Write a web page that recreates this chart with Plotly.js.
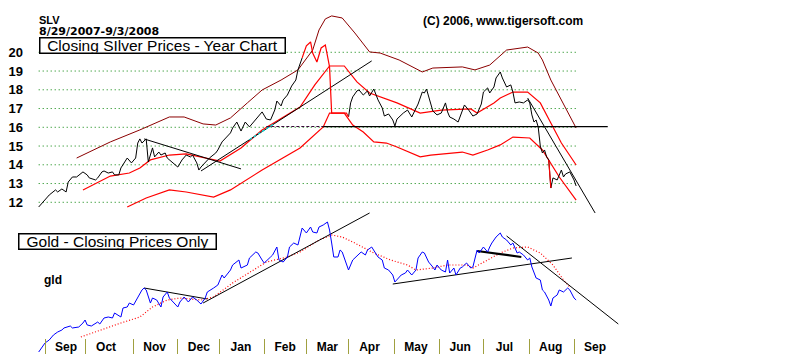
<!DOCTYPE html>
<html><head><meta charset="utf-8">
<script src="https://cdn.plot.ly/plotly-3.0.1.min.js"></script>
<style>html,body{margin:0;padding:0;background:#fff}#chart{width:800px;height:354px}</style>
</head><body><div id="chart"></div>
<script>
// x = trading session number counted from 8/29/2007 (session 0)
const monthStarts = [3,22,45,66,86,107,127,147,169,190,211,233,254];
const monthLabels = ['Sep','Oct','Nov','Dec','Jan','Feb','Mar','Apr','May','Jun','Jul','Aug','Sep'];
const silverTicks = [12,13,14,15,16,17,18,19,20];

// SLV closes (black line); null = section drawn in red
const slvDay = [0,3,5,8,9,11,13,14,16,18,20,21,23,24,27,28,30,31,33,35,36,38,39,41,42,44,46,47,48,49,51,52,54,55,57,58,60,61,63,66,68,70,72,73,75,76,77,79,81,84,85,87,89,91,92,94,96,98,100,103,105,106,108,110,112,113,115,116,118,120,122,123,125,
  136,
  147,148,149,151,152,154,156,157,159,161,163,164,166,168,169,170,173,175,177,178,180,182,183,184,186,187,189,191,193,194,195,197,199,201,202,204,206,208,210,211,213,214,216,217,219,220,222,224,225,226,228,230,232,233,234,235,236,237,238,239,240,241,242,243,244,246,247,248,249,250,252,253,254,255];
const slvClose = [11.75,12.12,12.39,12.66,12.55,12.71,12.55,13.08,13.35,13.35,13.56,13.62,13.46,13.30,13.19,13.30,13.62,13.67,13.56,13.62,13.46,13.46,13.83,14.15,14.36,14.10,14.36,15.16,15.38,15.16,15.38,14.15,14.90,14.42,14.68,14.52,14.63,14.36,14.15,13.88,14.26,14.52,14.42,14.52,14.10,13.72,13.88,14.10,14.36,14.63,14.79,15.22,15.48,15.70,15.96,16.28,15.80,16.28,16.02,16.44,16.71,16.82,16.44,16.39,16.92,17.40,17.14,17.46,17.72,18.20,18.52,19.06,19.70,
  null,
  16.55,17.30,17.62,17.94,17.99,17.72,17.94,17.67,18.04,17.46,17.03,16.60,16.71,16.39,16.07,16.44,16.76,16.92,16.55,16.76,17.24,17.88,17.83,18.04,17.30,16.87,16.66,16.76,17.30,16.82,16.55,16.44,16.28,16.92,17.19,16.92,16.60,16.71,17.24,17.88,18.10,17.83,18.15,18.63,18.95,18.63,18.15,18.26,17.88,17.30,17.35,17.30,17.46,17.30,16.66,16.28,16.39,16.02,15.00,14.63,14.79,14.42,14.26,12.76,13.30,13.19,13.51,13.72,13.35,13.51,13.62,13.40,13.19,12.87];

// SLV sections drawn in red
const slvRedDay = [125,127,129,130,132,134,136,137,138,139,146,147, 170, 242,243];
const slvRedVal = [19.70,20.34,20.55,19.96,19.48,20.23,20.39,19.86,19.22,16.76,16.76,16.55, null, 14.26,12.76];

// bands
const upperDay = [18,34,48,62,69,78,84,91,99,106,115,123,130,133,136,139,144,150,157,162,171,182,187,201,207,214,222,232,237,239,243,248,255];
const upperVal = [14.36,15.22,15.86,16.55,16.55,16.18,16.12,16.50,17.30,17.99,18.52,19.06,20.12,21.19,21.78,21.94,21.83,21.03,20.02,19.96,19.59,18.95,19.16,19.22,19.06,19.32,20.12,20.28,19.96,19.59,18.52,17.46,15.96];
const midDay = [21,28,34,43,48,53,62,70,80,86,96,106,124,131,138,145,151,157,170,181,191,205,208,216,219,225,232,238,243,248,255];
const midVal = [12.66,13.08,13.40,13.56,13.83,14.26,14.52,14.58,14.36,14.20,14.90,15.86,17.08,18.26,19.27,19.27,18.42,17.83,17.30,16.76,16.92,16.98,16.76,17.30,17.56,17.88,17.88,17.30,16.23,15.16,13.99];
const lowerDay = [42,51,62,70,83,91,106,124,135,138,145,149,154,159,165,170,181,186,201,206,213,219,225,233,239,247,255];
const lowerVal = [11.75,12.23,12.66,12.55,12.28,12.66,13.72,14.90,16.02,16.76,16.76,16.12,15.75,15.22,15.16,14.95,14.42,14.52,14.68,14.52,14.79,15.06,15.48,15.43,14.79,13.35,12.12];

// silver trendlines [day0, day1], [val0, val1]
const slvDownDay = [50,96],  slvDownVal = [15.38,13.78];
const slvUpDay = [77,158],   slvUpVal = [13.67,19.54];
const slvCyanDay = [100,112], slvCyanVal = [15.34,16.21];
const slvFlatDashDay = [108,135], slvFlatSolidDay = [135,270], slvFlatVal = [16.04,16.04];
const slvAugDay = [232,264], slvAugVal = [17.56,11.43];

// GLD closes
const gldDay = [0,3,5,7,9,11,12,15,16,19,21,22,23,25,28,29,31,33,35,36,39,40,42,43,45,47,49,50,51,53,54,56,58,59,61,62,64,66,67,69,71,73,75,77,79,80,83,85,87,88,91,92,95,96,99,100,103,104,106,107,110,111,113,114,116,118,119,121,123,124,125,127,129,130,132,133,135,137,138,139,140,142,143,144,146,147,149,150,152,153,155,156,158,160,161,163,164,166,168,169,171,172,174,175,177,179,180,182,183,185,187,188,189,191,193,194,195,197,198,200,201,203,205,206,208,209,211,213,214,215,217,219,220,222,224,225,227,228,230,232,233,234,236,238,239,240,242,243,244,246,247,249,251,252,254,255];
const gldClose = [65.5,67.87,68.66,69.97,70.76,71.29,71.82,72.34,71.82,72.08,73.13,73.92,72.61,72.34,73.39,72.87,74.45,74.71,74.45,75.76,74.71,77.08,77.34,78.39,77.87,79.71,81.82,82.34,81.82,78.39,79.71,79.18,77.34,79.97,81.29,79.71,78.39,77.34,78.66,79.97,78.66,79.97,79.18,78.13,79.71,81.29,82.34,83.13,85.76,84.97,87.08,88.39,89.71,87.6,88.39,90.24,91.82,91.55,89.71,88.92,90.5,91.03,93.13,89.71,89.18,90.5,93.13,94.18,93.66,96.03,98.13,96.82,98.39,97.08,96.82,98.39,98.92,99.71,97.6,94.18,90.5,90.5,92.34,91.82,88.92,87.08,89.71,90.24,91.55,91.82,91.03,92.34,93.13,91.55,90.5,89.71,87.6,87.08,85.76,83.92,84.97,85.76,86.29,87.08,85.76,87.08,90.24,91.82,91.55,89.18,87.87,87.08,88.39,87.08,86.55,89.71,86.29,87.6,85.76,87.6,87.87,88.92,87.6,87.87,92.34,91.55,93.13,91.82,93.13,94.18,95.76,96.82,95.76,94.97,93.66,94.18,91.55,91.82,91.03,89.71,90.24,87.87,84.97,84.45,81.82,81.29,79.18,77.6,79.71,80.5,81.82,81.29,82.34,81.82,79.71,79.18];
const gldMaDay = [20,29,39,48,54,61,67,77,83,92,102,108,118,124,133,139,144,149,159,167,175,179,187,194,203,206,213,219,225,232,238,244,249,252];
const gldMaVal = [69.45,71.29,73.13,74.71,77.34,79.18,79.71,79.18,79.97,83.66,87.08,89.18,90.5,91.82,94.97,96.29,95.76,94.45,91.55,89.71,88.39,87.08,87.6,88.39,88.39,87.6,89.71,91.55,92.87,93.13,91.55,88.39,84.45,82.6];
// gold trendlines
const gldT1Day = [50,80],   gldT1Val = [82.34,79.45];
const gldT2Day = [78,157],  gldT2Val = [78.39,102.08];
const gldT3Day = [168,253], gldT3Val = [83.39,90.24];
const gldT4Day = [208,229], gldT4Val = [92.08,90.5];
const gldT5Day = [222,275], gldT5Val = [96.03,72.87];

const FONT = 'Liberation Sans, Arial, sans-serif';
const W = 800, H = 354, ML = 24, MR = 160, PW = W - ML - MR;
const xp = p => (p - ML) / PW, yp = p => 1 - p / H;

function line(x, y, color, width, dash, yaxis) {
  return {x, y, type: 'scatter', mode: 'lines', yaxis: yaxis || 'y',
    line: {color, width: width || 1, dash: dash || 'solid'}, hoverinfo: 'skip', showlegend: false, connectgaps: false};
}

const traces = [
  line(upperDay, upperVal, '#8b0000', 1),
  line(midDay, midVal, '#ff0000', 1.2),
  line(lowerDay, lowerVal, '#ff0000', 1.2),
  line(slvDownDay, slvDownVal, '#000000', 1),
  line(slvUpDay, slvUpVal, '#000000', 1),
  line(slvCyanDay, slvCyanVal, '#00e0e0', 1.2, '3px,2px'),
  line(slvFlatDashDay, slvFlatVal, '#330033', 1, '3px,2px'),
  line(slvFlatSolidDay, slvFlatVal, '#000000', 1.2),
  line(slvAugDay, slvAugVal, '#000000', 1),
  line(slvDay, slvClose, '#000000', 1),
  line(slvRedDay, slvRedVal, '#ff0000', 1.2),
  line(gldMaDay, gldMaVal, '#ff0000', 1.2, '1px,2px', 'y2'),
  line(gldT1Day, gldT1Val, '#000000', 1, null, 'y2'),
  line(gldT2Day, gldT2Val, '#000000', 1, null, 'y2'),
  line(gldT3Day, gldT3Val, '#000000', 1, null, 'y2'),
  line(gldT4Day, gldT4Val, '#000000', 2.2, null, 'y2'),
  line(gldT5Day, gldT5Val, '#000000', 1, null, 'y2'),
  line(gldDay, gldClose, '#0000ff', 1, null, 'y2')
];

const shapes = silverTicks.map(v => ({type: 'line', xref: 'x', yref: 'y', x0: 0, x1: 255, y0: v, y1: v,
  layer: 'below', line: {color: '#008000', width: 1, dash: '1px,3px'}}));

const bold = (size, fam) => ({family: fam || FONT, size, color: '#000', weight: 700});
const annotations = [
  {text: 'SLV', x: xp(37), y: yp(20.5), xref: 'paper', yref: 'paper', xanchor: 'left', yanchor: 'middle', showarrow: false, font: bold(11)},
  {text: '8/29/2007-9/3/2008', x: xp(37), y: yp(31.5), xref: 'paper', yref: 'paper', xanchor: 'left', yanchor: 'middle', showarrow: false,
    font: bold(11, 'DejaVu Sans, sans-serif')},
  {text: '(C) 2006, www.tigersoft.com', x: xp(421), y: yp(21), xref: 'paper', yref: 'paper', xanchor: 'left', yanchor: 'middle', showarrow: false, font: bold(12)},
  {text: 'Closing SIlver Prices - Year Chart', x: xp(162), y: yp(45.5), xref: 'paper', yref: 'paper', xanchor: 'center', yanchor: 'middle', showarrow: false,
    font: {family: FONT, size: 15.5, color: '#000'}, bordercolor: '#000', borderwidth: 1.5, borderpad: 0, bgcolor: '#fff', width: 244, height: 14},
  {text: 'Gold - Closing Prices Only', x: xp(117.5), y: yp(241.5), xref: 'paper', yref: 'paper', xanchor: 'center', yanchor: 'middle', showarrow: false,
    font: {family: FONT, size: 15.5, color: '#000'}, bordercolor: '#000', borderwidth: 1.5, borderpad: 0, bgcolor: '#fff', width: 196, height: 14},
  {text: 'gld', x: xp(42), y: yp(280), xref: 'paper', yref: 'paper', xanchor: 'left', yanchor: 'middle', showarrow: false, font: bold(12)}
];

const layout = {
  width: W, height: H, margin: {l: ML, r: MR, t: 0, b: 0},
  paper_bgcolor: '#fff', plot_bgcolor: '#fff', showlegend: false,
  xaxis: {range: [-6.975, 285.3], showgrid: false, zeroline: false, showline: false,
    tickmode: 'array', tickvals: monthStarts, ticktext: monthLabels,
    ticks: 'inside', ticklen: 15, tickwidth: 1, tickcolor: '#a0a040',
    ticklabelposition: 'inside', ticklabelshift: 21, ticklabelstandoff: -15,
    tickfont: bold(12)},
  yaxis: {range: [3.909, 22.789], showgrid: false, zeroline: false, showline: false,
    tickmode: 'array', tickvals: silverTicks, ticks: '', tickfont: bold(13)},
  yaxis2: {range: [64.974, 158.13], overlaying: 'y', visible: false, showgrid: false, zeroline: false},
  shapes, annotations
};

Plotly.newPlot('chart', traces, layout, {staticPlot: true, displayModeBar: false});
</script></body></html>
